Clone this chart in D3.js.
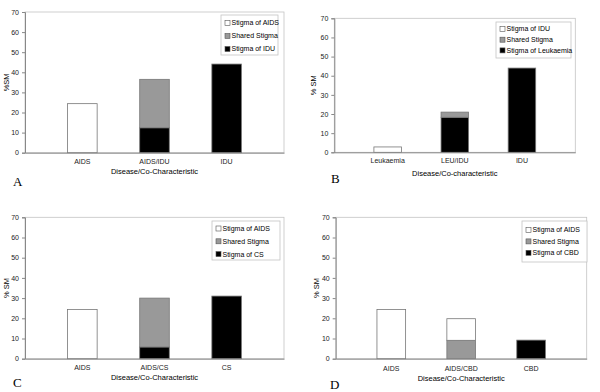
<!DOCTYPE html>
<html>
<head>
<meta charset="utf-8">
<script src="https://cdn.jsdelivr.net/npm/d3@7"></script>
<style>
  body { margin: 0; background: #fff; }
  text { font-family: "Liberation Sans", Arial, sans-serif; }
</style>
</head>
<body>
<div id="chart"></div>
<script>
//Data for each panel
const yTicks = [0, 10, 20, 30, 40, 50, 60, 70];

const catsA = ["AIDS", "AIDS/IDU", "IDU"];
const whiteA = [24.4, 0, 0];
const greyA = [0, 24.1, 0];
const blackA = [0, 12.4, 44.1];
const legendA = ["Stigma of AIDS", "Shared Stigma", "Stigma of IDU"];

const catsB = ["Leukaemia", "LEU/IDU", "IDU"];
const whiteB = [2.8, 0, 0];
const greyB = [0, 2.7, 0];
const blackB = [0, 18.3, 44.0];
const legendB = ["Stigma of IDU", "Shared Stigma", "Stigma of Leukaemia"];

const catsC = ["AIDS", "AIDS/CS", "CS"];
const whiteC = [24.4, 0, 0];
const greyC = [0, 24.2, 0];
const blackC = [0, 5.8, 31.0];
const legendC = ["Stigma of AIDS", "Shared Stigma", "Stigma of CS"];

const catsD = ["AIDS", "AIDS/CBD", "CBD"];
const whiteD = [24.4, 10.7, 0];
const greyD = [0, 9.1, 0];
const blackD = [0, 0, 9.2];
const legendD = ["Stigma of AIDS", "Shared Stigma", "Stigma of CBD"];

//Appending the svg object to the body of the page
const svg = d3.select("#chart")
    .append("svg")
    .attr("width", 600)
    .attr("height", 392);

const fills = {white: "#ffffff", grey: "#999999", black: "#000000"};

function drawPanel(p) {
    const g = svg.append("g");

    //Scales
    const x = d3.scaleBand()
        .domain(p.cats)
        .range([p.left, p.right])
        .padding(0.59);
    const y = d3.scaleLinear()
        .domain([0, 70])
        .range([p.bottom, p.top]);

    //Plot frame
    g.append("rect")
        .attr("x", p.left).attr("y", p.top)
        .attr("width", p.right - p.left).attr("height", p.bottom - p.top)
        .attr("fill", "none").attr("stroke", "#c4c4c4").attr("stroke-width", 0.8);

    //Stacked bars: black at the bottom, then grey, then white
    const rows = p.cats.map((c, i) => ({cat: c, black: p.black[i], grey: p.grey[i], white: p.white[i]}));
    const stack = d3.stack().keys(["black", "grey", "white"])(rows);
    g.append("g")
        .selectAll("g")
        .data(stack)
        .join("g")
        .attr("fill", d => fills[d.key])
        .selectAll("rect")
        .data(d => d.filter(s => s[1] - s[0] > 0))
        .join("rect")
        .attr("x", d => x(d.data.cat))
        .attr("y", d => y(d[1]))
        .attr("width", x.bandwidth())
        .attr("height", d => y(d[0]) - y(d[1]))
        .attr("stroke", "#777")
        .attr("stroke-width", 0.8);

    //Y axis
    const yAxis = g.append("g")
        .attr("transform", `translate(${p.left},0)`)
        .call(d3.axisLeft(y).tickValues(yTicks).tickSize(3).tickPadding(3));
    yAxis.select(".domain").attr("stroke", "#888");
    yAxis.selectAll(".tick line").attr("stroke", "#888");
    yAxis.selectAll("text").style("font-size", "7px").attr("fill", "#222");

    //X axis
    const xAxis = g.append("g")
        .attr("transform", `translate(0,${p.bottom})`)
        .call(d3.axisBottom(x).tickSize(0).tickPadding(p.xPad));
    xAxis.select(".domain").attr("stroke", "#888");
    xAxis.selectAll("text").style("font-size", "7px").attr("fill", "#222");

    //Axis titles
    g.append("text")
        .attr("transform", `translate(${p.yTitleX},${(p.top + p.bottom) / 2}) rotate(-90)`)
        .attr("text-anchor", "middle")
        .style("font-size", "7.5px")
        .text(p.yTitle);
    g.append("text")
        .attr("x", (p.left + p.right) / 2)
        .attr("y", p.xTitleY)
        .attr("text-anchor", "middle")
        .style("font-size", "7.5px")
        .text(p.xTitle);

    //Panel letter
    g.append("text")
        .attr("x", p.letterX).attr("y", p.letterY)
        .style("font-family", "'Liberation Serif', 'Times New Roman', serif")
        .style("font-size", "13px")
        .text(p.letter);

    //Legend
    const lg = g.append("g").attr("transform", `translate(${p.legX},${p.legY})`);
    lg.append("rect")
        .attr("width", p.legW).attr("height", p.legH)
        .attr("fill", "#fff").attr("stroke", "#c4c4c4").attr("stroke-width", 0.8);
    const keys = ["white", "grey", "black"];
    p.legend.forEach((lab, i) => {
        const yy = p.legStep * i + p.legFirst;
        lg.append("rect")
            .attr("x", 4).attr("y", yy - 2.5)
            .attr("width", 5).attr("height", 5)
            .attr("fill", fills[keys[i]]).attr("stroke", "#555").attr("stroke-width", 0.6);
        lg.append("text")
            .attr("x", 10.5).attr("y", yy)
            .attr("dy", "0.35em")
            .style("font-size", "7px")
            .text(lab);
    });
}

drawPanel({cats: catsA, white: whiteA, grey: greyA, black: blackA, legend: legendA,
    left: 25, right: 284, top: 12, bottom: 152.7, xPad: 6,
    yTitle: "%SM", yTitleX: 9, xTitle: "Disease/Co-Characteristic", xTitleY: 174,
    letter: "A", letterX: 13, letterY: 186,
    legX: 221, legY: 15, legW: 57, legH: 40, legFirst: 8, legStep: 13});

drawPanel({cats: catsB, white: whiteB, grey: greyB, black: blackB, legend: legendB,
    left: 334.3, right: 575.3, top: 18.3, bottom: 152.3, xPad: 6,
    yTitle: "% SM", yTitleX: 316, xTitle: "Disease/Co-characteristic", xTitleY: 176,
    letter: "B", letterX: 331, letterY: 183,
    legX: 496, legY: 22, legW: 75, legH: 36, legFirst: 7, legStep: 10.7});

drawPanel({cats: catsC, white: whiteC, grey: greyC, black: blackC, legend: legendC,
    left: 25, right: 284, top: 217.3, bottom: 358.7, xPad: 6,
    yTitle: "% SM", yTitleX: 9, xTitle: "Disease/Co-Characteristic", xTitleY: 380,
    letter: "C", letterX: 13, letterY: 387,
    legX: 212, legY: 221, legW: 68, legH: 39, legFirst: 7.5, legStep: 12.8});

drawPanel({cats: catsD, white: whiteD, grey: greyD, black: blackD, legend: legendD,
    left: 335.7, right: 586.7, top: 217.3, bottom: 358.7, xPad: 7,
    yTitle: "% SM", yTitleX: 319, xTitle: "Disease/Co-Characteristic", xTitleY: 380.5,
    letter: "D", letterX: 330, letterY: 389,
    legX: 522, legY: 221, legW: 65, legH: 41, legFirst: 9, legStep: 11.4});
</script>
</body>
</html>
